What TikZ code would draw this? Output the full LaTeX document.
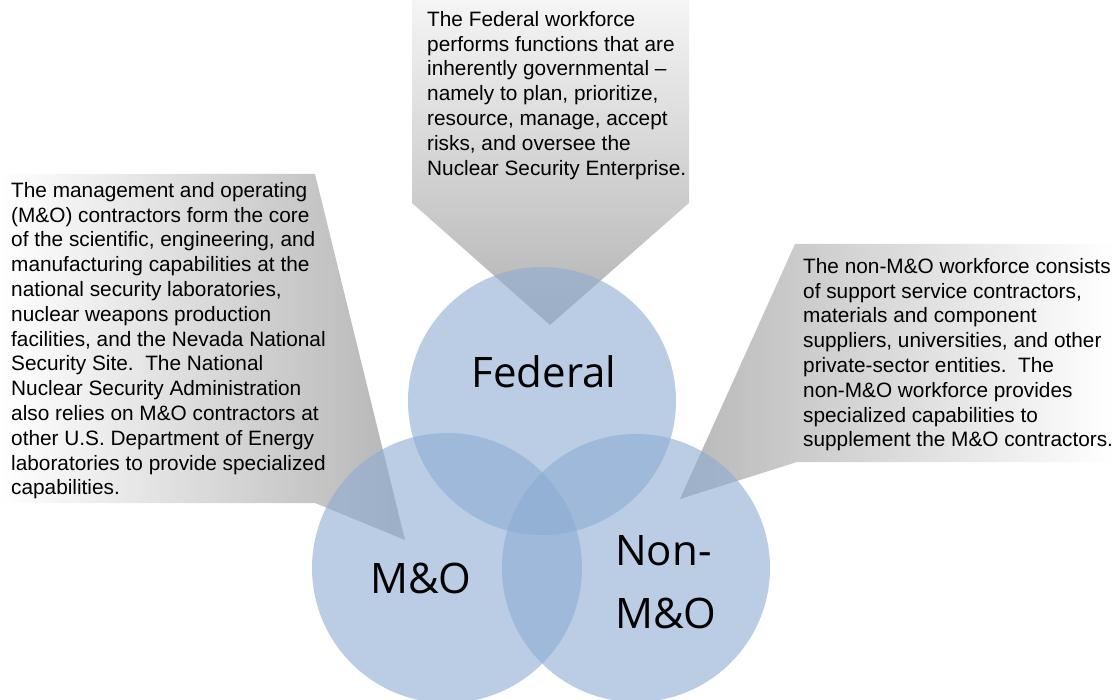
\documentclass[tikz,border=0pt]{standalone}
\usepackage{fontspec}
\setmainfont{Liberation Sans}
\newfontfamily\labelfont{Open Sans}
\definecolor{cblue}{RGB}{140,172,210}
\begin{document}
\begin{tikzpicture}[x=1pt,y=-1pt,
  callout/.style={draw=none},
  venn/.style={fill=cblue,fill opacity=0.6,draw=none},
  bodytext/.style={inner sep=0pt,anchor=north west,align=left,font=\fontsize{20.8}{24.8}\selectfont},
  venntext/.style={inner sep=0pt,font=\labelfont\fontsize{42}{64}\selectfont}]
\useasboundingbox (0,0) rectangle (1114,700);
% callouts
\shade[callout,top color=black!4,bottom color=black!30]
  (412,0) -- (689,0) -- (689,203) -- (550,325) -- (412,203) -- cycle;
\shade[callout,left color=white,right color=black!29]
  (0,174) -- (315,174) -- (405,540) -- (315,503) -- (0,503) -- cycle;
\shade[callout,left color=black!28,right color=white]
  (795,244) -- (1114,244) -- (1114,462) -- (797,462) -- (680,499) -- cycle;
% circles
\fill[venn] (542,401) circle[radius=134];
\fill[venn] (447,568) circle[radius=135];
\fill[venn] (636,568) circle[radius=134];
% circle labels
\node[venntext,anchor=base] (fed) at (544,388) {Federal};
\node[venntext,anchor=base] (mo) at (421,593) {M\&O};
\node[venntext,anchor=base west] (non1) at (615,565) {Non-};
\node[venntext,anchor=base west] (non2) at (615,628) {M\&O};
% body texts
\node[bodytext] (tfed) at (427,11) {The Federal workforce\\performs functions that are\\inherently governmental –\\namely to plan, prioritize,\\resource, manage, accept\\risks, and oversee the\\Nuclear Security Enterprise.};
\node[bodytext] (tmo) at (11,182) {The management and operating\\(M\&O) contractors form the core\\of the scientific, engineering, and\\manufacturing capabilities at the\\national security laboratories,\\nuclear weapons production\\facilities, and the Nevada National\\Security Site.\ \ The National\\Nuclear Security Administration\\also relies on M\&O contractors at\\other U.S. Department of Energy\\laboratories to provide specialized\\capabilities.};
\node[bodytext] (tnon) at (803,258) {The non-M\&O workforce consists\\of support service contractors,\\materials and component\\suppliers, universities, and other\\private-sector entities.\ \ The\\non-M\&O workforce provides\\specialized capabilities to\\supplement the M\&O contractors.};
\end{tikzpicture}
\end{document}
